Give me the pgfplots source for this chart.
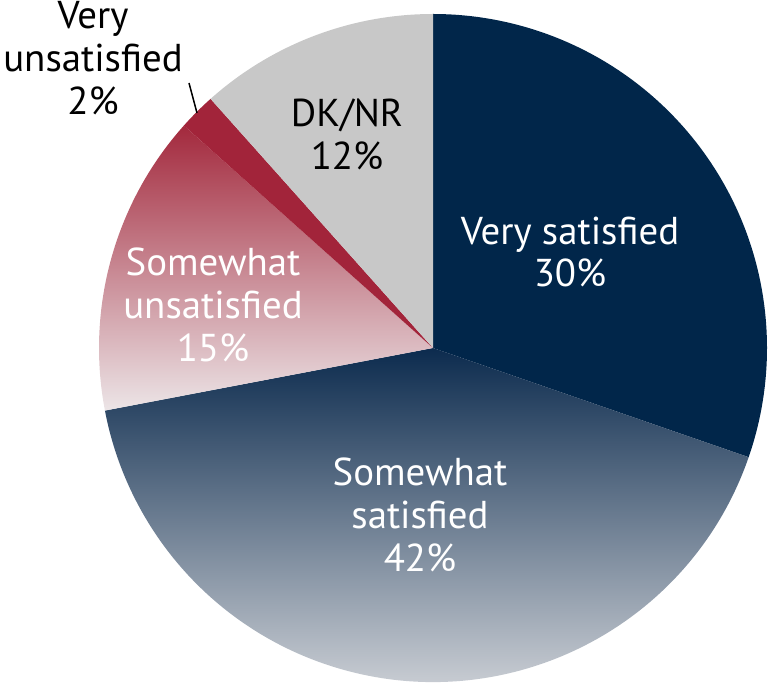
\documentclass[border=0pt]{standalone}
\usepackage{pgfplots}
\pgfplotsset{compat=1.18}
\usepackage{pgfplotstable}
\usepackage{fontspec}
\setmainfont{PT Sans}

\definecolor{vsat}{RGB}{1,38,74}
\definecolor{ssattop}{RGB}{12,43,78}
\definecolor{ssatmid}{RGB}{100,118,140}
\definecolor{ssatbot}{RGB}{222,223,226}
\definecolor{sunstop}{RGB}{163,41,61}
\definecolor{sunsmid}{RGB}{192,120,130}
\definecolor{sunsbot}{RGB}{236,229,231}
\definecolor{vuns}{RGB}{162,36,58}
\definecolor{dknr}{RGB}{200,200,200}

% share of each answer, clockwise from 12 o'clock
\pgfplotstableread{
label value
VerySat 30.3
SomeSat 41.7
SomeUns 14.6
VeryUns 1.8
DKNR 11.6
}\piedata

\newcommand\getval[2]{%
  \pgfplotstablegetelem{#1}{value}\of\piedata
  \pgfmathsetmacro#2{\pgfplotsretval}}

\begin{document}
\begin{tikzpicture}
\def\R{334}
\getval{0}{\vA}\getval{1}{\vB}\getval{2}{\vC}\getval{3}{\vD}\getval{4}{\vE}
\pgfmathsetmacro\aO{90}
\pgfmathsetmacro\aA{\aO-3.6*\vA}
\pgfmathsetmacro\aB{\aA-3.6*\vB}
\pgfmathsetmacro\aC{\aB-3.6*\vC}
\pgfmathsetmacro\aD{\aC-3.6*\vD}
\pgfmathsetmacro\aE{\aD-3.6*\vE}
\begin{axis}[
    x=1bp, y=1bp,
    xmin=-433, xmax=336,
    ymin=-338, ymax=348,
    hide axis,
    clip=false,
    font=\fontsize{39}{43}\selectfont,
]
% slices
\fill[vsat] (axis cs:0,0) -- (axis cs:{\R*cos(\aO)},{\R*sin(\aO)})
    arc[start angle=\aO, end angle=\aA, radius=\R bp] -- cycle;
\shade[top color=ssattop, middle color=ssatmid, bottom color=ssatbot]
    (axis cs:0,0) -- (axis cs:{\R*cos(\aA)},{\R*sin(\aA)})
    arc[start angle=\aA, end angle=\aB, radius=\R bp] -- cycle;
\shade[top color=sunstop, middle color=sunsmid, bottom color=sunsbot]
    (axis cs:0,0) -- (axis cs:{\R*cos(\aB)},{\R*sin(\aB)})
    arc[start angle=\aB, end angle=\aC, radius=\R bp] -- cycle;
\fill[vuns] (axis cs:0,0) -- (axis cs:{\R*cos(\aC)},{\R*sin(\aC)})
    arc[start angle=\aC, end angle=\aD, radius=\R bp] -- cycle;
\fill[dknr] (axis cs:0,0) -- (axis cs:{\R*cos(\aD)},{\R*sin(\aD)})
    arc[start angle=\aD, end angle=\aE, radius=\R bp] -- cycle;

% labels
\node[white, align=center] at (axis cs:137,96) {Very satisfied\\30\%};
\node[white, align=center] at (axis cs:-13,-167) {Somewhat\\satisfied\\42\%};
\node[white, align=center] at (axis cs:-220,43) {Somewhat\\unsatisfied\\15\%};
\node[black, align=center] at (axis cs:-86,214) {DK/NR\\12\%};
\node[black, align=center] at (axis cs:-340,290) {Very\\unsatisfied\\2\%};
\draw[black, line width=1.5bp] (axis cs:-244,265) -- (axis cs:-236,235);
\end{axis}
\pgfresetboundingbox
\path (current axis.south west) rectangle (current axis.north east);
\end{tikzpicture}
\end{document}
